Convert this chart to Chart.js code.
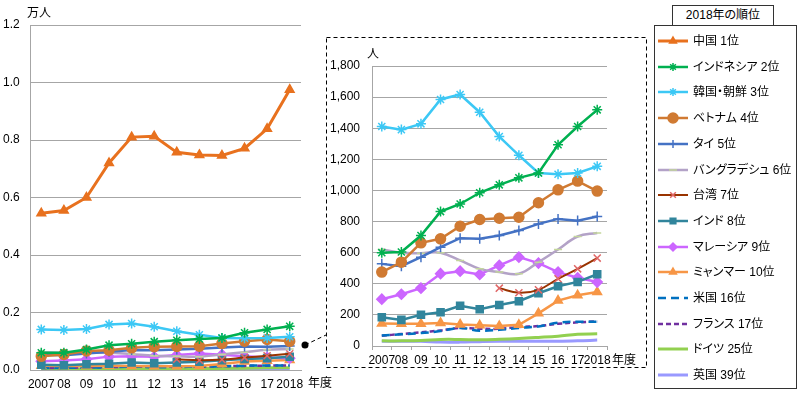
<!DOCTYPE html>
<html>
<head>
<meta charset="utf-8">
<script src="https://cdn.jsdelivr.net/npm/chart.js@4/dist/chart.umd.min.js"></script>
<style>
body { margin: 0; background: #fff; width: 800px; height: 397px; position: relative; overflow: hidden;
  font-family: "Liberation Sans", "Noto Sans CJK JP", sans-serif; font-feature-settings: "palt"; color: #000; }
.abs { position: absolute; }
.lbl { font-size: 12px; line-height: 14px; white-space: nowrap; }
#legendTitle { left: 672px; top: 5px; width: 102px; height: 21px; border: 1px solid #333; box-sizing: border-box;
  text-align: center; font-size: 12px; line-height: 19px; background: #fff; }
#legendBox { left: 654px; top: 25px; width: 143px; height: 364px; border: 1px solid #333; box-sizing: border-box; }
.item { position: absolute; left: 2px; height: 16px; white-space: nowrap; font-size: 12px; line-height: 16px; }
.item canvas { position: absolute; left: 0; top: 2px; }
.item span { position: absolute; left: 36px; top: 0; }
</style>
</head>
<body>
<canvas id="mainChart" class="abs" style="left:0;top:0" width="340" height="397"></canvas>
<canvas id="insetChart" class="abs" style="left:326px;top:37px" width="320" height="331"></canvas>
<svg class="abs" style="left:0;top:0" width="800" height="397">
  <rect x="326.5" y="37.5" width="320" height="330" fill="none" stroke="#000" stroke-dasharray="4 3"/>
  <line x1="305" y1="345" x2="326" y2="335" stroke="#000" stroke-dasharray="4 3"/>
  <circle cx="305" cy="345" r="3.5" fill="#000"/>
</svg>
<div class="abs lbl" style="left:27px;top:6px">万人</div>
<div class="abs lbl" style="left:308px;top:376px">年度</div>
<div class="abs lbl" style="left:367px;top:47px">人</div>
<div class="abs lbl" style="left:612px;top:353px">年度</div>
<div id="legendTitle" class="abs">2018年の順位</div>
<div id="legendBox" class="abs"></div>

<script>
// 年度
const years = ['2007', '08', '09', '10', '11', '12', '13', '14', '15', '16', '17', '2018'];

// 人数（人）
const china      = [5450, 5550, 6000, 7200, 8100, 8130, 7570, 7480, 7460, 7710, 8390, 9750];
const indonesia  = [600, 604, 710, 864, 913, 985, 1036, 1081, 1112, 1294, 1411, 1518];
const korea      = [1411, 1391, 1428, 1585, 1617, 1503, 1346, 1226, 1112, 1104, 1112, 1155];
const vietnam    = [475, 539, 663, 689, 770, 813, 821, 828, 921, 1004, 1060, 996];
const thailand   = [528, 513, 571, 635, 693, 689, 710, 742, 785, 817, 806, 832];
const bangladesh = [620, 600, 597, 600, 550, 496, 475, 464, 539, 620, 704, 727];
const taiwan     = [null, null, null, null, null, null, 372, 342, 361, 432, 496, 565];
const india      = [185, 168, 201, 217, 259, 236, 264, 288, 339, 384, 412, 461];
const malaysia   = [301, 333, 372, 465, 481, 460, 518, 571, 533, 475, 439, 411];
const myanmar    = [144, 143, 143, 148, 139, 133, 128, 136, 210, 292, 326, 347];
const usa        = [68, 75, 83, 96, 116, 98, 104, 116, 126, 150, 156, 156];
const france     = [66, 77, 88, 100, 116, 111, 111, 122, 128, 143, 152, 158];
const germany    = [33, 33, 35, 42, 42, 40, 43, 48, 55, 63, 75, 78];
const uk         = [30, 30, 30, 25, 25, 28, 30, 30, 30, 30, 33, 38];

// 凡例の名前
const names = ['中国 1位', 'インドネシア 2位', '韓国・朝鮮 3位', 'ベトナム 4位', 'タイ 5位', 'バングラデシュ 6位',
  '台湾 7位', 'インド 8位', 'マレーシア 9位', 'ミャンマー 10位', '米国 16位', 'フランス 17位', 'ドイツ 25位', '英国 39位'];
const seriesData = [china, indonesia, korea, vietnam, thailand, bangladesh, taiwan, india, malaysia, myanmar, usa, france, germany, uk];

// 線のスタイル
const styles = [
  { color: '#E8711E', point: 'triangle', radius: 5, width: 3 },
  { color: '#00B050', point: 'star', radius: 5 },
  { color: '#3CC8F5', point: 'star', radius: 5 },
  { color: '#D07A32', point: 'circle', radius: 5 },
  { color: '#4472C4', point: 'cross', radius: 5 },
  { color: '#B3A2C7', point: 'line', pointColor: '#C3D69B', radius: 4, tension: 0.4 },
  { color: '#993300', point: 'crossRot', pointColor: '#E06666', radius: 5, tension: 0.4, width: 2 },
  { color: '#31859C', point: 'rect', radius: 5 },
  { color: '#CC66FF', point: 'rectRot', radius: 5 },
  { color: '#F79646', point: 'triangle', radius: 5 },
  { color: '#0070C0', point: false, dash: [8, 5], tension: 0.4 },
  { color: '#7030A0', point: false, dash: [5, 3], tension: 0.4 },
  { color: '#92D050', point: false, tension: 0.4, width: 3 },
  { color: '#9999FF', point: false, tension: 0.4, width: 3 }
];

const gridColor = '#A6A6A6';
const tickFont = { family: '"Liberation Sans", "Noto Sans CJK JP", sans-serif', size: 12 };

function makeDatasets(divisor, skipFirst) {
  const sets = [];
  seriesData.forEach((d, i) => {
    if (skipFirst && i === 0) return;
    const s = styles[i];
    sets.push({
      label: names[i],
      data: d.map(v => v === null ? null : v / divisor),
      borderColor: s.color,
      backgroundColor: s.color,
      borderWidth: s.width || 2.5,
      borderDash: s.dash || [],
      tension: s.tension || 0,
      pointStyle: s.point,
      pointRadius: s.point ? s.radius : 0,
      pointBorderColor: s.pointColor || s.color,
      pointBackgroundColor: s.pointColor || s.color,
      pointBorderWidth: 1.5
    });
  });
  return sets;
}

// メインの図（万人）
const mainConfig = {
  type: 'line',
  data: { labels: years, datasets: makeDatasets(10000, false) },
  options: {
    responsive: false,
    animation: false,
    devicePixelRatio: 1,
    layout: { padding: { top: 25, left: 3, right: 39, bottom: 0 } },
    plugins: { legend: { display: false }, tooltip: { enabled: false } },
    scales: {
      x: {
        offset: true,
        grid: { display: false, drawTicks: false },
        border: { color: gridColor },
        ticks: { color: '#000', font: tickFont, padding: 7, maxRotation: 0, autoSkip: false },
        afterFit: s => { s.height = 27; }
      },
      y: {
        min: 0, max: 1.2,
        grid: { color: gridColor, drawTicks: false },
        border: { color: gridColor },
        ticks: { stepSize: 0.2, color: '#000', font: tickFont, crossAlign: 'far', callback: v => v.toFixed(1) },
        afterFit: s => { s.width = 27; }
      }
    }
  }
};

// 拡大図（人）
const insetConfig = {
  type: 'line',
  data: { labels: years, datasets: makeDatasets(1, true) },
  options: {
    responsive: false,
    animation: false,
    devicePixelRatio: 1,
    layout: { padding: { top: 29, left: 0, right: 39, bottom: 0 } },
    plugins: { legend: { display: false }, tooltip: { enabled: false } },
    scales: {
      x: {
        offset: true,
        grid: { offset: true, drawOnChartArea: false, color: gridColor, tickLength: 4 },
        border: { color: gridColor },
        ticks: { color: '#000', font: tickFont, padding: 3, maxRotation: 0, autoSkip: false },
        afterFit: s => { s.height = 22; }
      },
      y: {
        min: 0, max: 1800,
        grid: { color: gridColor, drawTicks: false },
        border: { color: gridColor },
        ticks: { stepSize: 200, color: '#000', font: tickFont, padding: 12, callback: v => v.toLocaleString('en-US') },
        afterFit: s => { s.width = 46; }
      }
    }
  }
};

// 凡例
function renderLegend() {
  const box = document.getElementById('legendBox');
  names.forEach((name, i) => {
    const s = styles[i];
    const item = document.createElement('div');
    item.className = 'item';
    item.style.top = (7 + i * 25.7) + 'px';
    const c = document.createElement('canvas');
    c.width = 32; c.height = 12;
    const ctx = c.getContext('2d');
    ctx.strokeStyle = s.color;
    ctx.lineWidth = s.width || 2.5;
    ctx.setLineDash(s.dash || []);
    ctx.beginPath(); ctx.moveTo(1, 6); ctx.lineTo(31, 6); ctx.stroke();
    ctx.setLineDash([]);
    if (s.point && Chart.helpers && Chart.helpers.drawPoint) {
      ctx.strokeStyle = s.pointColor || s.color;
      ctx.fillStyle = s.pointColor || s.color;
      ctx.lineWidth = 1.5;
      Chart.helpers.drawPoint(ctx, { pointStyle: s.point, radius: s.point === 'circle' ? 5 : 4, rotation: 0, borderWidth: 1.5 }, 16, 6);
    }
    const t = document.createElement('span');
    t.textContent = name;
    item.appendChild(c);
    item.appendChild(t);
    box.appendChild(item);
  });
}

function renderCharts() {
  new Chart(document.getElementById('mainChart'), mainConfig);
  new Chart(document.getElementById('insetChart'), insetConfig);
  renderLegend();
}

renderCharts();
</script>
</body>
</html>
